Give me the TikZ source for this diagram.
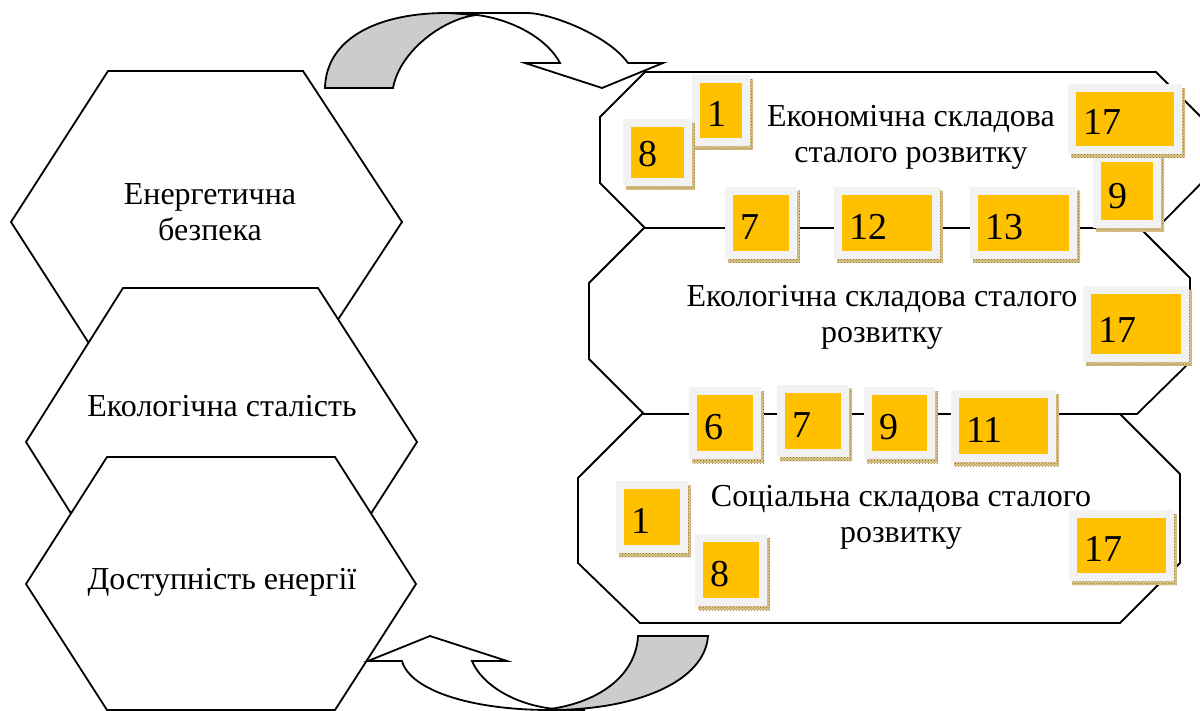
\documentclass[tikz,border=0pt]{standalone}
\usepackage{fontspec}
\setmainfont{Liberation Serif}
\usetikzlibrary{patterns,fit,calc}
\definecolor{boxorange}{HTML}{FFC000}
\definecolor{boxgray}{HTML}{F2F2F2}
\definecolor{arrowgray}{HTML}{CCCCCC}
\definecolor{shadowtan}{HTML}{D9C48C}
\definecolor{shadowdark}{HTML}{8C6D1F}
\tikzset{
  outline/.style={draw=black, line width=1.8pt, fill=white, line join=miter},
  grayband/.style={draw=black, line width=1.8pt, fill=arrowgray, line join=miter},
  lbl/.style={font=\fontsize{32}{36}\selectfont, inner sep=0pt, align=center},
  numtext/.style={font=\fontsize{38}{40}\selectfont, inner sep=0pt, anchor=base west},
  numfill/.style={fill=boxorange, inner sep=0pt, draw=none},
}
\newcommand{\numbox}[6]{%
  \fill[shadowtan] (#2-5,#3-4) rectangle (#4+11,#5+12);
  \fill[pattern=crosshatch dots, pattern color=shadowdark] (#2-5,#3-4) rectangle (#4+11,#5+12);
  \fill[boxgray] (#2-8,#3-8) rectangle (#4+8,#5+8);
  \node[numfill, fit={(#2,#3)(#4,#5)}] (#1) {};
  \node[numtext] (#1-t) at ($(#1.south west)+(7,-12)$) {#6};
}
\begin{document}
\begin{tikzpicture}[x=1pt, y=-1pt]
\useasboundingbox (0,0) rectangle (1200,711);
\clip (0,0) rectangle (1200,711);

% right octagons
\draw[outline] (645,72) -- (1156,72) -- (1234,150) -- (1157,228) -- (645,228) -- (600,183) -- (600,117) -- cycle;
\draw[outline] (644,228) -- (1140,228) -- (1190,278) -- (1190,362) -- (1137,414) -- (644,414) -- (589,359) -- (589,283) -- cycle;
\draw[outline] (642,414) -- (1120,414) -- (1180,474) -- (1180,563) -- (1120,623) -- (640,623) -- (578,563) -- (578,478) -- cycle;

% left hexagons
\draw[outline] (108,71) -- (303,71) -- (402,222) -- (303,373) -- (108,373) -- (11,222) -- cycle;
\draw[outline] (123,288) -- (318,288) -- (417,442) -- (318,596) -- (123,596) -- (26,442) -- cycle;
\draw[outline] (107,457) -- (335,457) -- (416,584) -- (335,710) -- (107,710) -- (26,584) -- cycle;

% top curved arrow
\draw[outline] (447,13) -- (527,13) .. controls (550,13) and (608,35) .. (628,63)
  -- (663,63) -- (602,88) -- (525,63) -- (560,63)
  .. controls (548,40) and (515,20) .. (477,15) -- cycle;
\draw[grayband] (325,88) .. controls (326,40) and (375,13) .. (447,13) -- (477,15)
  .. controls (445,18) and (400,50) .. (393,88) -- cycle;

% bottom curved arrow
\draw[outline] (402,661) .. controls (410,690) and (470,710) .. (550,710) -- (585,710) -- (555,709)
  .. controls (515,705) and (482,685) .. (472,661) -- (507,661) -- (430,636) -- (368,661) -- cycle;
\draw[grayband] (550,710) .. controls (640,710) and (705,680) .. (708,636) -- (638,636)
  .. controls (636,675) and (600,702) .. (550,709) -- cycle;

% labels (anchor=base is the baseline of the last line)
\node[lbl, anchor=base] (energy) at (210,241) {Енергетична\\безпека};
\node[lbl, anchor=base] (ecost) at (222,416) {Екологічна сталість};
\node[lbl, anchor=base] (access) at (222,589) {Доступність енергії};
\node[lbl, anchor=base] (econ) at (911,163) {Економічна складова\\сталого розвитку};
\node[lbl, anchor=base] (ecol) at (882,343) {Екологічна складова сталого\\розвитку};
\node[lbl, anchor=base] (soc) at (901,542) {Соціальна складова сталого\\розвитку};

% number boxes
\numbox{eA}{700}{83}{742}{138}{1}
\numbox{eB}{631}{127}{684}{178}{8}
\numbox{eD}{1101}{162}{1153}{220}{9}
\numbox{eC}{1076}{92}{1174}{146}{17}
\numbox{eE}{733}{195}{789}{251}{7}
\numbox{eF}{842}{195}{932}{251}{12}
\numbox{eG}{978}{195}{1069}{251}{13}
\numbox{gA}{1091}{294}{1181}{354}{17}
\numbox{gB}{697}{395}{753}{451}{6}
\numbox{gC}{785}{393}{841}{449}{7}
\numbox{gD}{872}{395}{927}{451}{9}
\numbox{gE}{959}{398}{1048}{454}{11}
\numbox{sA}{624}{489}{680}{545}{1}
\numbox{sB}{703}{542}{759}{598}{8}
\numbox{sC}{1077}{518}{1166}{573}{17}
\end{tikzpicture}
\end{document}
